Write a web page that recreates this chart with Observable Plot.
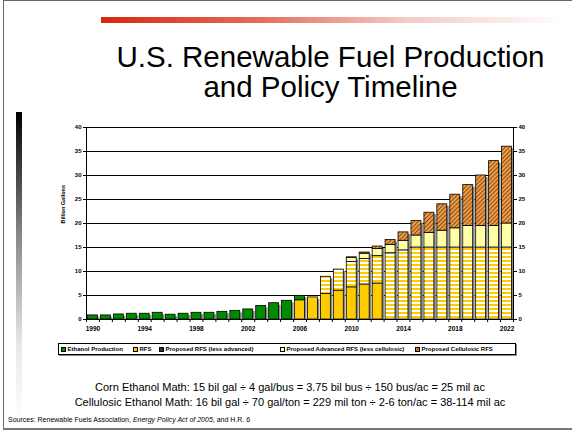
<!DOCTYPE html>
<html>
<head>
<meta charset="utf-8">
<script src="https://cdn.jsdelivr.net/npm/d3@7"></script>
<script src="https://cdn.jsdelivr.net/npm/@observablehq/plot@0.6"></script>
<style>
  body { margin: 0; background: #fff; font-family: "Liberation Sans", Arial, sans-serif; }
  #page { position: relative; width: 572px; height: 431px; overflow: hidden; background: #fff; }
  .abs { position: absolute; }
  #title { left: 30px; width: 601px; top: 42px; text-align: center; font-size: 29.5px; line-height: 30px; color: #000; white-space: nowrap; }
  #redbar { left: 101px; top: 17px; width: 465px; height: 6px; background: linear-gradient(to right, #d8250c, #e47060 35%, #f3c9c3 65%, #ffffff); }
  #graybar { left: 16px; top: 112px; width: 6px; height: 310px; background: linear-gradient(to bottom, #000, #888 40%, #e8e8e8 75%, #fff); }
  #frameL { left: 3px; top: 0; width: 1px; height: 430px; background: #666; }
  #frameT { left: 3px; top: 0; width: 569px; height: 1px; background: #666; }
  #frameB { left: 3px; top: 428px; width: 569px; height: 2px; background: #777; }
  #chart { left: 0; top: 100px; }
  #legend { left: 58px; top: 343px; width: 456px; height: 10px; border: 1px solid #000; box-shadow: 1px 1px 0 #888; background: #fff; }
  .li { position: absolute; top: 0; height: 10px; display: flex; align-items: center; font-size: 6px; font-weight: bold; white-space: nowrap; }
  .li svg { margin-right: 1.5px; }
  #math { left: 40px; width: 500px; top: 380px; text-align: center; font-size: 11px; line-height: 15px; color: #000; white-space: nowrap; }
  #sources { left: 8px; top: 416px; font-size: 7px; color: #000; white-space: nowrap; }
</style>
</head>
<body>
<div id="page">
  <div class="abs" id="frameL"></div>
  <div class="abs" id="frameT"></div>
  <div class="abs" id="frameB"></div>
  <div class="abs" id="redbar"></div>
  <div class="abs" id="graybar"></div>
  <div class="abs" id="title">U.S. Renewable Fuel Production<br>and Policy Timeline</div>
  <div class="abs" id="chart"></div>
  <div class="abs" id="legend"></div>
  <div class="abs" id="math">Corn Ethanol Math: 15 bil gal ÷ 4 gal/bus = 3.75 bil bus ÷ 150 bus/ac = 25 mil ac<br>Cellulosic Ethanol Math: 16 bil gal ÷ 70 gal/ton = 229 mil ton ÷ 2-6 ton/ac = 38-114 mil ac</div>
  <div class="abs" id="sources">Sources: Renewable Fuels Association, <i>Energy Policy Act of 2005</i>, and H.R. 6</div>
</div>
<script>
// ---- data ----
const years = [1990,1991,1992,1993,1994,1995,1996,1997,1998,1999,2000,2001,2002,2003,2004,2005,2006,
               2007,2008,2009,2010,2011,2012,2013,2014,2015,2016,2017,2018,2019,2020,2021,2022];
const seriesNames = ["RFS", "Proposed RFS (less advanced)", "Proposed Advanced RFS (less cellulosic)", "Proposed Cellulosic RFS", "Ethanol Production"];
const legendOrder = ["Ethanol Production", "RFS", "Proposed RFS (less advanced)", "Proposed Advanced RFS (less cellulosic)", "Proposed Cellulosic RFS"];
// billion gallons per year (null = no segment)
const ethanol = [0.85,0.85,1.05,1.2,1.2,1.4,1.0,1.2,1.4,1.4,1.6,1.8,2.1,2.8,3.4,3.9,0.9,
                 null,null,null,null,null,null,null,null,null,null,null,null,null,null,null,null];
const rfs = [null,null,null,null,null,null,null,null,null,null,null,null,null,null,null,null,4.0,
             4.6,5.3,6.0,6.7,7.3,7.5,null,null,null,null,null,null,null,null,null,null];
const rfsLessAdvanced = [null,null,null,null,null,null,null,null,null,null,null,null,null,null,null,null,null,
             null,3.6,4.4,5.3,5.3,5.7,13.8,14.4,15,15,15,15,15,15,15,15];
const advancedLessCellulosic = [null,null,null,null,null,null,null,null,null,null,null,null,null,null,null,null,null,
             null,null,null,0.85,1.1,1.5,1.75,2.0,2.5,3.0,3.5,4.0,4.5,4.5,4.5,5.0];
const cellulosic = [null,null,null,null,null,null,null,null,null,null,null,null,null,null,null,null,null,
             null,null,null,0.1,0.25,0.5,1.0,1.75,3.0,4.25,5.5,7.0,8.5,10.5,13.5,16.0];
const yTicks = [0,5,10,15,20,25,30,35,40];
const xLabelYears = [1990,1994,1998,2002,2006,2010,2014,2018,2022];

// ---- styles ----
const fills = {
  "Ethanol Production": "#008c00",
  "RFS": "#ffcc00",
  "Proposed RFS (less advanced)": "url(#stripes)",
  "Proposed Advanced RFS (less cellulosic)": "#ffffa8",
  "Proposed Cellulosic RFS": "url(#hatch)"
};

const seriesValues = {
  "Ethanol Production": ethanol,
  "RFS": rfs,
  "Proposed RFS (less advanced)": rfsLessAdvanced,
  "Proposed Advanced RFS (less cellulosic)": advancedLessCellulosic,
  "Proposed Cellulosic RFS": cellulosic
};
const rows = [];
for (const s of seriesNames) {
  seriesValues[s].forEach((v, i) => { if (v != null) rows.push({year: years[i], series: s, value: v}); });
}
const boundaries = years.map(y => y - 0.5).concat([years[years.length - 1] + 0.5]);

const x1 = d => d.year - 0.5, x2 = d => d.year + 0.5;
const chart = Plot.plot({
  width: 572, height: 240,
  marginTop: 27, marginBottom: 21, marginLeft: 86, marginRight: 59,
  style: {fontFamily: "Liberation Sans, Arial, sans-serif", background: "transparent", overflow: "visible", color: "#000"},
  x: {domain: [boundaries[0], boundaries[boundaries.length - 1]]},
  y: {domain: [0, 40]},
  color: {domain: seriesNames, range: seriesNames.map(s => fills[s])},
  marks: [
    Plot.ruleY(yTicks.slice(1), {stroke: "#000", strokeWidth: 1}),
    Plot.rectY(rows, {x1, x2, y: "value", z: "series", order: seriesNames, fill: "#8a8a8a", dx: 2, dy: 2, insetLeft: 1.5, insetRight: 1.5, clip: true}),
    Plot.rectY(rows, {x1, x2, y: "value", fill: "series", order: seriesNames, stroke: "#000", strokeWidth: 0.8, insetLeft: 1.5, insetRight: 1.5}),
    Plot.frame({stroke: "#000"}),
    Plot.axisY({anchor: "left", ticks: yTicks, tickSize: 3, tickPadding: 2, fontSize: 6, fontWeight: "bold", label: null}),
    Plot.axisY({anchor: "right", ticks: yTicks, tickSize: 3, tickPadding: 2, fontSize: 6, fontWeight: "bold", label: null}),
    Plot.axisX({ticks: boundaries, tickSize: 3, tickFormat: () => "", label: null}),
    Plot.axisX({ticks: xLabelYears, tickSize: 0, tickPadding: 7, tickFormat: d => String(d), fontSize: 6.5, fontWeight: "bold", label: null}),
    Plot.text(["Billion Gallons"], {frameAnchor: "left", dx: -23, rotate: -90, fontSize: 5.5, fontWeight: "bold", fill: "#000"})
  ]
});

// patterns
const svg = d3.select(chart);
const defs = svg.insert("defs", ":first-child");
const st = defs.append("pattern").attr("id", "stripes").attr("patternUnits", "userSpaceOnUse").attr("width", 4).attr("height", 4);
st.append("rect").attr("width", 4).attr("height", 4).attr("fill", "#ffffff");
st.append("rect").attr("y", 0).attr("width", 4).attr("height", 2).attr("fill", "#ffcc00");
const ht = defs.append("pattern").attr("id", "hatch").attr("patternUnits", "userSpaceOnUse").attr("width", 3).attr("height", 3).attr("patternTransform", "rotate(45)");
ht.append("rect").attr("width", 3).attr("height", 3).attr("fill", "#f3ab55");
ht.append("rect").attr("width", 1.3).attr("height", 3).attr("fill", "#9a4e10");

document.getElementById("chart").appendChild(chart);

// legend
const legendX = [2, 74, 100, 221, 356];
const legendSwatch = {
  "Ethanol Production": "#008c00",
  "RFS": "#ffcc00",
  "Proposed RFS (less advanced)": "#333333",
  "Proposed Advanced RFS (less cellulosic)": "#ffffa8",
  "Proposed Cellulosic RFS": "url(#hatch)"
};
const legend = d3.select("#legend");
legendOrder.forEach((s, i) => {
  const item = legend.append("div").attr("class", "li").style("left", legendX[i] + "px");
  const sw = item.append("svg").attr("width", 5).attr("height", 5);
  sw.append("rect").attr("x", 0.5).attr("y", 0.5).attr("width", 4).attr("height", 4)
    .attr("fill", legendSwatch[s]).attr("stroke", "#000").attr("stroke-width", 1);
  item.append("span").text(s);
});
</script>
</body>
</html>
